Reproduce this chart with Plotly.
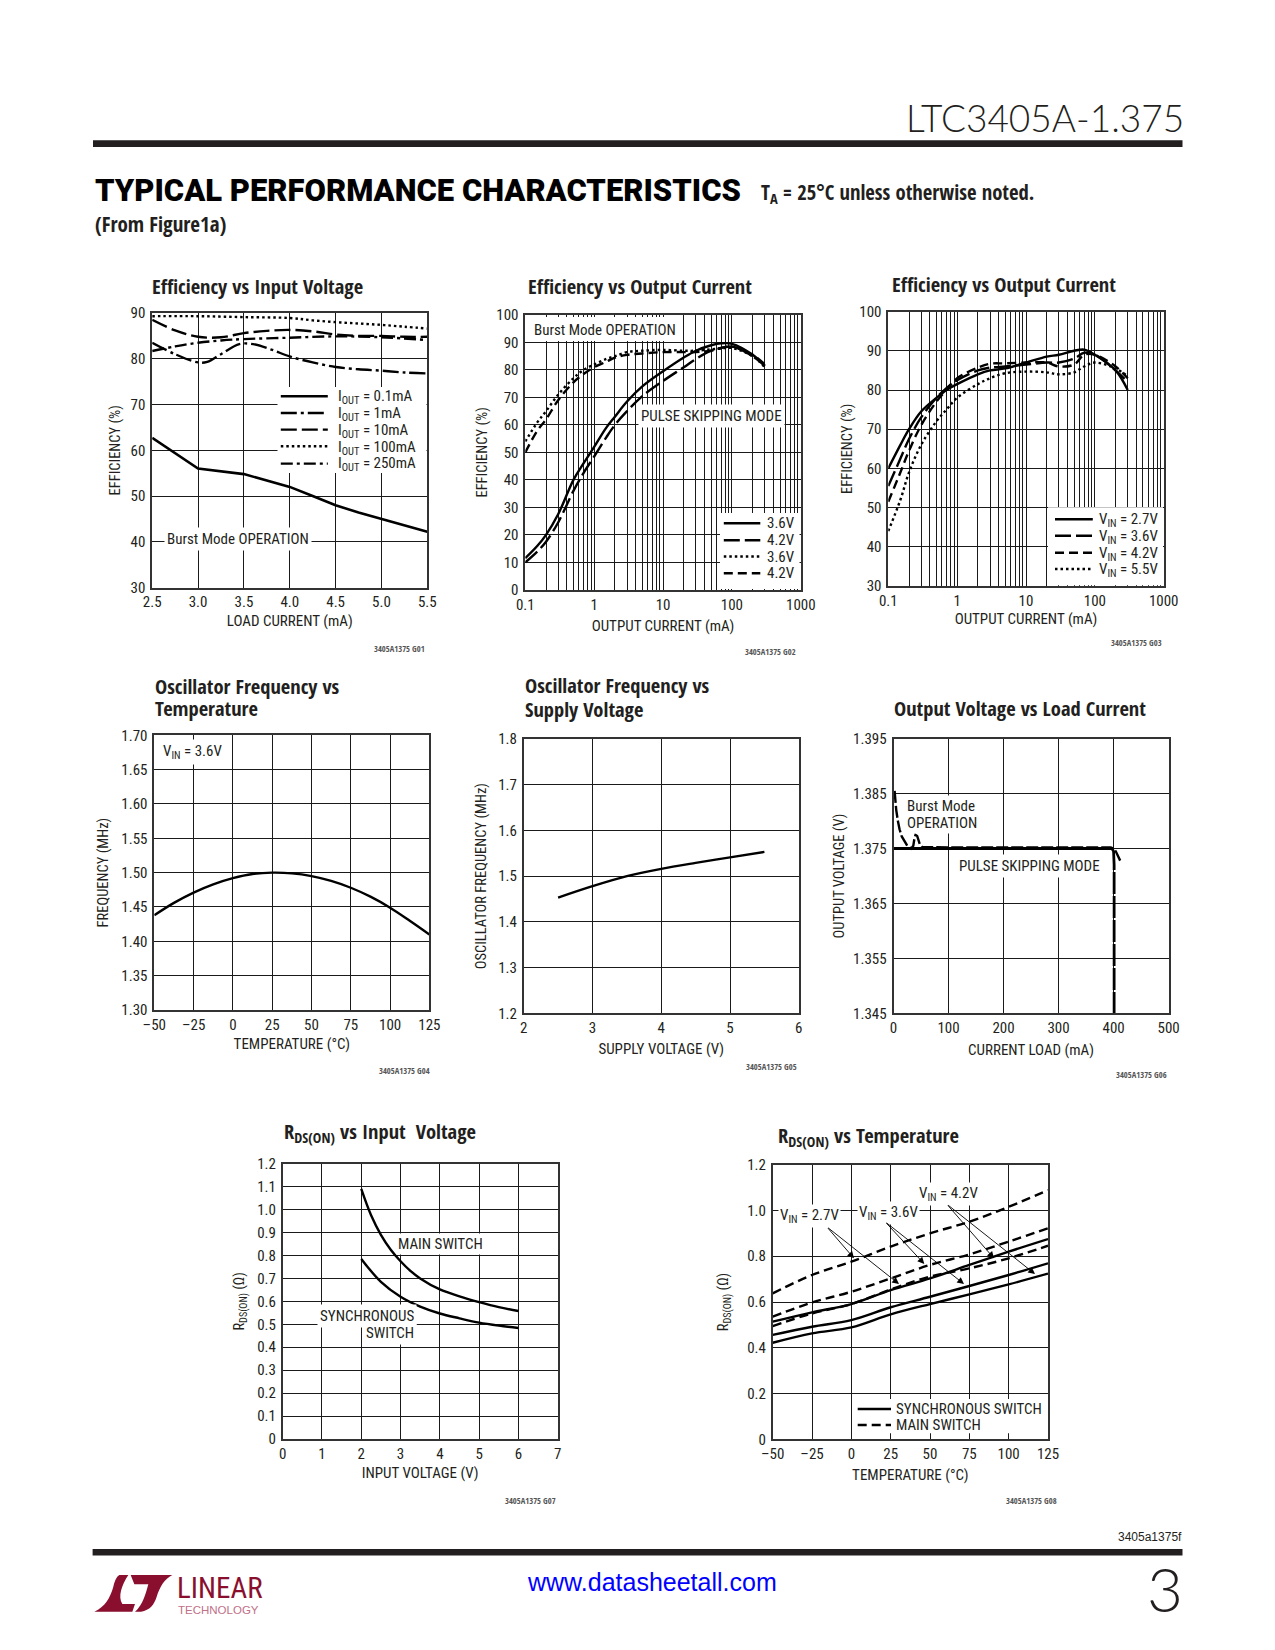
import plotly.graph_objects as go

W, H = 1275, 1650
NARROW = "Roboto Condensed"
HEAD = "Open Sans Condensed"
SANS = "Liberation Sans"
INK = "#231f20"

# ---------- Data ----------
c1_x_a = [2.5, 3.0, 3.5, 4.0, 4.25, 4.5, 4.75, 5.0, 5.25, 5.5]
c1_01 = [62.7, 56.0, 54.8, 52.0, 50.0, 48.0, 46.4, 45.0, 43.5, 42.2]
c1_x_b = [2.5, 2.75, 3.0, 3.1, 3.25, 3.45, 3.6, 3.8, 4.0, 4.25, 4.5, 4.75, 5.0, 5.25, 5.5]
c1_1 = [83.5, 81.0, 79.2, 79.3, 81.0, 83.2, 83.2, 82.0, 80.5, 79.2, 78.2, 77.7, 77.4, 77.0, 76.8]
c1_x_c = [2.5, 2.75, 3.0, 3.25, 3.5, 3.75, 4.0, 4.25, 4.5, 4.75, 5.0, 5.25, 5.5]
c1_10 = [88.5, 86.2, 84.8, 84.7, 85.6, 86.1, 86.3, 86.0, 85.3, 85.0, 85.0, 84.8, 84.8]
c1_x_d = [2.5, 3.0, 3.5, 4.0, 4.25, 4.5, 4.75, 5.0, 5.25, 5.5]
c1_100 = [89.3, 89.3, 89.1, 88.9, 88.4, 88.0, 87.7, 87.4, 87.0, 86.6]
c1_x_e = [2.5, 2.75, 3.0, 3.25, 3.5, 4.0, 4.5, 5.0, 5.5]
c1_250 = [81.7, 82.7, 83.5, 84.0, 84.3, 84.6, 84.9, 84.7, 84.1]

c2_x = [0.1, 0.15, 0.2, 0.3, 0.5, 0.7, 1, 1.5, 2, 3, 5, 10, 20, 30, 50, 70, 100, 200, 300]
c2_pulse36 = [11.5, 16, 20, 27.5, 40, 46, 52, 59, 63, 68.5, 74, 79.5, 84.5, 87, 89, 89.7, 89.5, 85.5, 81.5]
c2_pulse42 = [10, 14, 17.5, 24.5, 36, 42.5, 48.5, 55.5, 60, 65, 70.5, 76, 81, 84, 87, 88, 88.5, 85, 81.5]
c2_burst36 = [54, 61, 65, 71, 77, 80, 82, 84, 85, 86.5, 87, 87.3, 87, 87, 87.5, 87.8, 88, 85, 81]
c2_burst42 = [50, 58, 62, 69, 75.5, 78.5, 81, 83, 84.5, 85.5, 86, 86.5, 86.5, 86.5, 87, 88, 88.5, 85.5, 82]

c3_x = [0.1, 0.15, 0.2, 0.3, 0.5, 0.7, 1, 2, 3, 5, 10, 20, 30, 50, 70, 100, 200, 300]
c3_27 = [60, 66, 70, 74.5, 78, 80, 81.5, 84, 85, 85.5, 87, 88.5, 89, 90, 90.3, 89, 85, 80]
c3_36 = [55.5, 62.5, 67.5, 73, 78, 80.5, 82.5, 85, 85.7, 86, 86.5, 87, 87, 88, 89.5, 89, 85, 82]
c3_42 = [51.5, 59, 64.5, 71, 77, 80, 83, 85.7, 86.7, 86.8, 87, 87, 86, 86.5, 89, 89, 86, 83]
c3_55 = [44, 52, 59, 66, 72, 75, 78, 81.5, 83, 84.3, 84.7, 84.5, 84, 84.5, 86, 87, 85.5, 83.5]

c4_t = [-50, -37.5, -25, -12.5, 0, 12.5, 25, 37.5, 50, 62.5, 75, 87.5, 100, 112.5, 125]
c4_f = [1.438, 1.456, 1.471, 1.483, 1.492, 1.498, 1.5, 1.499, 1.495, 1.488, 1.478, 1.465, 1.449, 1.43, 1.41]

c5_v = [2.5, 3, 3.5, 4, 4.5, 5, 5.5]
c5_f = [1.453, 1.478, 1.5, 1.516, 1.529, 1.541, 1.553]

c6_pulse_x = [0, 100, 200, 300, 397]
c6_pulse_y = [1.375, 1.375, 1.375, 1.375, 1.375]
c6_burst_x = [2, 3, 5, 8, 11, 15, 20, 25, 32, 36, 38, 40, 43, 46, 48, 52, 100, 200, 300, 395, 400, 404, 412]
c6_burst_y = [1.3855, 1.384, 1.382, 1.380, 1.3785, 1.3772, 1.3762, 1.3755, 1.375, 1.3755, 1.3768, 1.3775, 1.3773,
              1.3762, 1.3757, 1.3753, 1.3752, 1.3752, 1.3752, 1.3752, 1.375, 1.3745, 1.3728]
c6_drop_x = [397, 400, 401, 401]
c6_drop_y = [1.375, 1.3745, 1.372, 1.345]

c7_mv = [2, 2.25, 2.5, 2.75, 3, 3.25, 3.5, 4, 4.5, 5, 5.5, 6]
c7_main = [1.09, 0.975, 0.89, 0.825, 0.775, 0.733, 0.70, 0.652, 0.622, 0.597, 0.575, 0.558]
c7_sv = [2, 2.5, 3, 3.5, 4, 4.5, 5, 5.5, 6]
c7_sync = [0.785, 0.685, 0.62, 0.577, 0.547, 0.526, 0.507, 0.494, 0.484]

c8_t = [-50, -25, 0, 25, 50, 75, 100, 125]
c8_main27 = [0.638, 0.718, 0.776, 0.842, 0.90, 0.951, 1.016, 1.089]
c8_main36 = [0.536, 0.598, 0.645, 0.703, 0.762, 0.808, 0.864, 0.922]
c8_main42 = [0.495, 0.55, 0.591, 0.655, 0.711, 0.747, 0.791, 0.846]
c8_sync27 = [0.514, 0.555, 0.591, 0.652, 0.703, 0.762, 0.82, 0.875]
c8_sync36 = [0.456, 0.492, 0.521, 0.577, 0.623, 0.67, 0.718, 0.769]
c8_sync42 = [0.422, 0.463, 0.489, 0.546, 0.591, 0.633, 0.677, 0.724]

log_ticks = [0.1, 1, 10, 100, 1000]
log_labels = ["0.1", "1", "10", "100", "1000"]
log_minor = [m * d for d in (0.1, 1, 10, 100) for m in range(2, 10)]

# ---------- Helpers ----------
def X(p): return p / W
def Y(p): return 1 - p / H

SOLID = "solid"
LONG = "16px,5px"
DASH = "9px,5px"
DOT = "2.5px,3px"
DASHDOT = "12px,4px,3px,4px"
LONGDOT = "16px,4px,3px,4px"

fig = go.Figure()
layout = {}
shapes, annos = [], []

def text(px, py, s, size=15, font=NARROW, color=INK, anchor="left", bg=None, pad=0, align=None, weight=None):
    f = dict(family=font, size=size, color=color)
    if weight:
        f["weight"] = weight
    a = dict(xref="paper", yref="paper", x=X(px), y=Y(py), text=s, showarrow=False,
             xanchor=anchor, yanchor="middle", font=f, borderpad=pad)
    if bg:
        a["bgcolor"] = bg
    if align:
        a["align"] = align
    annos.append(a)

def rect(x0, y0, x1, y1, color="white"):
    shapes.append(dict(type="rect", xref="paper", yref="paper", x0=X(x0), x1=X(x1), y0=Y(y1), y1=Y(y0),
                       fillcolor=color, line=dict(width=0)))

def swatch(x0, x1, py, dash, width=2.4):
    shapes.append(dict(type="line", xref="paper", yref="paper", x0=X(x0), x1=X(x1), y0=Y(py), y1=Y(py),
                       line=dict(color="black", width=width, dash=dash)))

def arrow(x0, y0, x1, y1):
    annos.append(dict(xref="paper", yref="paper", x=X(x1), y=Y(y1), ax=x0 - x1, ay=y0 - y1, text="",
                      showarrow=True, arrowhead=2, arrowsize=1.5, arrowwidth=0.9, arrowcolor="black"))

def panel(n, box, xrange, yrange, xtitle, ytitle, xticks=None, xlabels=None, yticks=None, ylabels=None,
          xlog=False, xs=4, ys=4):
    L, T, R, B = box
    xa = dict(domain=[X(L), X(R)], range=xrange, anchor="y%d" % n, showgrid=True, gridcolor="#1a1a1a", gridwidth=1,
              showline=True, mirror=True, linecolor="#333333", linewidth=1.6, zeroline=False, ticks="",
              tickmode="array", tickvals=xticks, ticktext=xlabels, ticklabelstandoff=0, automargin=False,
              tickfont=dict(family=NARROW, size=15, color=INK),
              title=dict(text=xtitle, standoff=xs, font=dict(family=NARROW, size=15, color=INK)))
    ya = dict(domain=[Y(B), Y(T)], range=yrange, anchor="x%d" % n, showgrid=True, gridcolor="#1a1a1a", gridwidth=1,
              showline=True, mirror=True, linecolor="#333333", linewidth=1.6, zeroline=False, ticks="",
              tickmode="array", tickvals=yticks, ticktext=ylabels, ticklabelstandoff=2, automargin=False,
              tickfont=dict(family=NARROW, size=15, color=INK),
              title=dict(text=ytitle, standoff=ys, font=dict(family=NARROW, size=14.5, color=INK)))
    if xlog:
        xa["type"] = "log"
        xa["minor"] = dict(tickvals=log_minor, showgrid=True, gridcolor="#1a1a1a", gridwidth=1, ticks="")
    suffix = "" if n == 1 else str(n)
    layout["xaxis" + suffix] = xa
    layout["yaxis" + suffix] = ya

def curve(n, x, y, name, dash=SOLID, width=2.4, shape="spline"):
    line = dict(color="black", width=width, dash=dash, shape=shape)
    if shape == "spline":
        line["smoothing"] = 1.0
    fig.add_trace(go.Scatter(x=x, y=y, mode="lines", name=name, showlegend=False, line=line,
                             xaxis="x%d" % n, yaxis="y%d" % n))

def seq(a, b, s):
    out, v = [], a
    while v <= b + 1e-9:
        out.append(round(v, 4))
        v += s
    return out

# ---------- Panels ----------
panel(1, (152.2, 313, 427.3, 587.6), [2.5, 5.5], [30, 90], "LOAD CURRENT (mA)", "EFFICIENCY (%)",
      seq(2.5, 5.5, .5), ["%.1f" % v for v in seq(2.5, 5.5, .5)], seq(30, 90, 10), [str(v) for v in range(30, 91, 10)], xs=5, ys=7)
curve(1, c1_x_a, c1_01, "IOUT = 0.1mA", SOLID, 2.6, "linear")
curve(1, c1_x_b, c1_1, "IOUT = 1mA", LONGDOT)
curve(1, c1_x_c, c1_10, "IOUT = 10mA", LONG)
curve(1, c1_x_d, c1_100, "IOUT = 100mA", DOT)
curve(1, c1_x_e, c1_250, "IOUT = 250mA", DASHDOT)

panel(2, (525.3, 315, 800.8, 589.8), [-1, 3], [0, 100], "OUTPUT CURRENT (mA)", "EFFICIENCY (%)",
      log_ticks, log_labels, seq(0, 100, 10), [str(v) for v in range(0, 101, 10)], xlog=True, xs=8, ys=5)
curve(2, c2_x, c2_pulse36, "3.6V pulse", SOLID)
curve(2, c2_x, c2_pulse42, "4.2V pulse", LONG)
curve(2, c2_x, c2_burst36, "3.6V burst", DOT)
curve(2, c2_x, c2_burst42, "4.2V burst", DASH)

panel(3, (888.3, 311.6, 1163.7, 586), [-1, 3], [30, 100], "OUTPUT CURRENT (mA)", "EFFICIENCY (%)",
      log_ticks, log_labels, seq(30, 100, 10), [str(v) for v in range(30, 101, 10)], xlog=True, xs=5, ys=3)
curve(3, c3_x, c3_27, "VIN = 2.7V", SOLID)
curve(3, c3_x, c3_36, "VIN = 3.6V", LONG)
curve(3, c3_x, c3_42, "VIN = 4.2V", DASH)
curve(3, c3_x, c3_55, "VIN = 5.5V", DOT)

panel(4, (154.3, 735.3, 429.4, 1010), [-50, 125], [1.30, 1.70], "TEMPERATURE (°C)", "FREQUENCY (MHz)",
      seq(-50, 125, 25), ["–50", "–25", "0", "25", "50", "75", "100", "125"],
      seq(1.30, 1.70, .05), ["%.2f" % v for v in seq(1.30, 1.70, .05)], xs=6, ys=9)
curve(4, c4_t, c4_f, "Frequency")

panel(5, (523.7, 739, 798.8, 1013.3), [2, 6], [1.2, 1.8], "SUPPLY VOLTAGE (V)", "OSCILLATOR FREQUENCY (MHz)",
      seq(2, 6, 1), ["2", "3", "4", "5", "6"], seq(1.2, 1.8, .1), ["%.1f" % v for v in seq(1.2, 1.8, .1)], xs=7, ys=8)
curve(5, c5_v, c5_f, "Frequency")

panel(6, (893.5, 738.7, 1168.6, 1013.3), [0, 500], [1.345, 1.395], "CURRENT LOAD (mA)", "OUTPUT VOLTAGE (V)",
      seq(0, 500, 100), ["0", "100", "200", "300", "400", "500"],
      seq(1.345, 1.395, .01), ["%.3f" % v for v in seq(1.345, 1.395, .01)], xs=8, ys=5)
curve(6, c6_burst_x, c6_burst_y, "Burst Mode", "12px,3px", 2.4, "linear")
curve(6, c6_pulse_x, c6_pulse_y, "Pulse skipping", SOLID, 3, "linear")
curve(6, c6_drop_x, c6_drop_y, "Dropout", "22px,2px", 2.8, "linear")

panel(7, (282.7, 1163.7, 557.7, 1439), [0, 7], [0, 1.2], "INPUT VOLTAGE (V)", "R<sub>DS(ON)</sub> (Ω)",
      seq(0, 7, 1), [str(v) for v in range(8)], seq(0, 1.2, .1),
      ["0"] + ["%.1f" % v for v in seq(.1, 1.2, .1)], xs=6, ys=9)
curve(7, c7_mv, c7_main, "Main switch")
curve(7, c7_sv, c7_sync, "Synchronous switch")

panel(8, (772.7, 1164.7, 1048, 1439.3), [-50, 125], [0, 1.2], "TEMPERATURE (°C)", "R<sub>DS(ON)</sub> (Ω)",
      seq(-50, 125, 25), ["–50", "–25", "0", "25", "50", "75", "100", "125"],
      seq(0, 1.2, .2), ["0", "0.2", "0.4", "0.6", "0.8", "1.0", "1.2"], xs=7, ys=15)
for y, nm in ((c8_sync27, "sync 2.7V"), (c8_sync36, "sync 3.6V"), (c8_sync42, "sync 4.2V")):
    curve(8, c8_t, y, nm, SOLID)
for y, nm in ((c8_main27, "main 2.7V"), (c8_main36, "main 3.6V"), (c8_main42, "main 4.2V")):
    curve(8, c8_t, y, nm, DASH)

# ---------- Page furniture ----------
rect(93, 140.3, 1182.5, 147, INK)
rect(92.6, 1549, 1182.5, 1555.5, INK)
text(1184.5, 117, "LTC3405A-1.375", size=37, font="Lato", anchor="right", weight=300)
text(94, 191, "<b>TYPICAL PERFORMANCE CHARACTERISTICS</b>", size=31, font="Roboto Black", color="black")
text(759.5, 193, "T<sub>A</sub> = 25°C unless otherwise noted.", size=20.7, font=HEAD)
text(93.5, 223.5, "(From Figure1a)", size=21, font=HEAD)

TITLE = dict(size=20.5, font=HEAD)
text(151, 285.5, "Efficiency vs Input Voltage", **TITLE)
text(527.3, 286, "Efficiency vs Output Current", **TITLE)
text(891, 284.5, "Efficiency vs Output Current", **TITLE)
text(153.5, 686, "Oscillator Frequency vs", **TITLE)
text(153.5, 708, "Temperature", **TITLE)
text(524, 685, "Oscillator Frequency vs", **TITLE)
text(524, 709, "Supply Voltage", **TITLE)
text(893, 708.3, "Output Voltage vs Load Current", **TITLE)
text(283, 1132, "R<sub>DS(ON)</sub> vs Input  Voltage", **TITLE)
text(777, 1136, "R<sub>DS(ON)</sub> vs Temperature", **TITLE)

for label, px, py in (("G01", 425.7, 648), ("G02", 797, 651.6), ("G03", 1163.3, 642), ("G04", 431, 1070),
                      ("G05", 798, 1066), ("G06", 1168, 1074), ("G07", 556.7, 1500), ("G08", 1058, 1500)):
    text(px, py, "3405A1375 " + label, size=8.5, anchor="right", font=HEAD, color="#555555")

# Chart 1 key
rect(277.5, 387, 426.5, 473)
for py, d in zip((396.3, 413, 429.6, 446.3, 463.6), (SOLID, LONGDOT, LONG, DOT, DASHDOT)):
    swatch(280.8, 327.8, py, d)
for py, s in zip((397, 414, 431, 447.5, 464.5), ("0.1mA", "1mA", "10mA", "100mA", "250mA")):
    text(337, py, "I<sub>OUT</sub> = " + s)
text(163.5, 538.7, "Burst Mode OPERATION", bg="white", pad=2)

# Chart 2 key
rect(527, 317, 677, 341)
text(533, 330, "Burst Mode OPERATION", bg="white")
text(784.8, 416, "PULSE SKIPPING MODE", anchor="right", bg="white", pad=2)
rect(720, 513, 799.5, 589)
for py, d in zip((523.2, 540.2, 556.5, 573.2), (SOLID, LONG, DOT, DASH)):
    swatch(723.8, 760.3, py, d)
for py, s in zip((523.2, 540.2, 556.5, 573.2), ("3.6V", "4.2V", "3.6V", "4.2V")):
    text(765.6, py, s)

# Chart 3 key
rect(1048, 507.3, 1163, 585.3)
for py, d in zip((519.2, 535.8, 552.8, 569), (SOLID, LONG, DASH, DOT)):
    swatch(1055, 1092.8, py, d)
for py, s in zip((520, 536.5, 553.5, 570), ("2.7V", "3.6V", "4.2V", "5.5V")):
    text(1097.7, py, "V<sub>IN</sub> = " + s)

text(160, 752.3, "V<sub>IN</sub> = 3.6V", bg="white", pad=2)
text(905, 805.5, "Burst Mode", bg="white", pad=1)
text(905, 823, "OPERATION", bg="white", pad=1)
text(1029.6, 866, "PULSE SKIPPING MODE", anchor="center", bg="white", pad=2)

text(440.5, 1244, "MAIN SWITCH", anchor="center", bg="white", pad=1)
text(417.3, 1316, "SYNCHRONOUS", anchor="right", bg="white", pad=2)
text(417.3, 1333, "SWITCH", anchor="right", bg="white", pad=2)

text(778, 1216, "V<sub>IN</sub> = 2.7V", bg="white", pad=1)
text(856.7, 1212.7, "V<sub>IN</sub> = 3.6V", bg="white", pad=1)
text(917, 1194.3, "V<sub>IN</sub> = 4.2V", bg="white", pad=1)
Z = lambda a, b: (690 + a / 3, 1100 + b / 3)
for start, end in (((410, 380), (492, 475)), ((410, 380), (627, 552)), ((585, 365), (703, 492)),
                   ((585, 365), (822, 552)), ((770, 312), (912, 475)), ((770, 312), (1035, 522))):
    arrow(*Z(*start), *Z(*end))
rect(855, 1399, 1045, 1433.3)
swatch(857.7, 891, 1409, SOLID)
swatch(857.7, 891, 1425, DASH)
text(895, 1409, "SYNCHRONOUS SWITCH")
text(895, 1425, "MAIN SWITCH")

# Footer
text(1182.5, 1536.7, "3405a1375f", size=12, font=SANS, anchor="right")
text(652, 1581.7, "www.datasheetall.com", size=25, font=SANS, anchor="center", color="#0000ff")
text(1184, 1588, "3", size=62, font="Lato", anchor="right", weight=300)

def logo_path(pts):
    out = []
    for cmd, coords in pts:
        vals = []
        for i in range(0, len(coords), 2):
            vals.append("%.5f" % X(85 + coords[i] / 3))
            vals.append("%.5f" % Y(1565 + coords[i + 1] / 3))
        out.append(cmd + " " + " ".join(vals))
    return " ".join(out) + " Z"

MAROON = "#8a0f2e"
shapes.append(dict(type="path", xref="paper", yref="paper", fillcolor=MAROON, line=dict(width=0), path=logo_path([
    ("M", (103, 30)), ("L", (130, 30)), ("C", (110, 60, 98, 95, 112, 117)), ("L", (150, 117)), ("L", (142, 140)),
    ("L", (28, 140)), ("C", (60, 125, 75, 100, 85, 65)), ("C", (90, 45, 95, 35, 103, 30))])))
shapes.append(dict(type="path", xref="paper", yref="paper", fillcolor=MAROON, line=dict(width=0), path=logo_path([
    ("M", (137, 30)), ("L", (262, 30)), ("C", (238, 42, 225, 65, 215, 95)), ("C", (207, 120, 195, 135, 168, 140)),
    ("L", (150, 140)), ("C", (168, 125, 178, 100, 186, 72)), ("L", (190, 58)), ("L", (148, 58))])))
text(176, 1587.5, "LINEAR", size=29, color=MAROON, font="Roboto Condensed")
text(176.5, 1609.5, "TECHNOLOGY", size=11.5, font=SANS, color="#c07088")

fig.update_layout(width=W, height=H, autosize=False, margin=dict(l=0, r=0, t=0, b=0),
                  paper_bgcolor="white", plot_bgcolor="white", showlegend=False,
                  shapes=shapes, annotations=annos, **layout)
fig.write_html("out.html", post_script="document.body.style.margin='0';", config=dict(displayModeBar=False))
